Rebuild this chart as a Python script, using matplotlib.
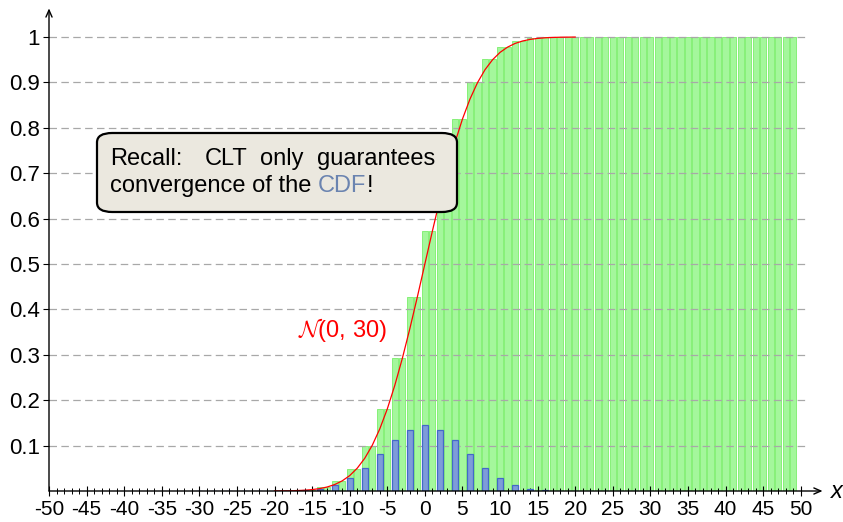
import matplotlib
matplotlib.use("Agg")
import matplotlib.pyplot as plt
from matplotlib.patches import FancyBboxPatch

plt.rcParams['font.family'] = ['Liberation Sans', 'DejaVu Sans']
plt.rcParams['mathtext.fontset'] = 'cm'
plt.rcParams['axes.unicode_minus'] = False

# ---- data ----
cdf_x = list(range(-50, 50))
cdf_values = ([0.0] * 30 +
              [0.0002, 0.0002, 0.0007, 0.0007, 0.0026, 0.0026, 0.0081, 0.0081,
               0.0214, 0.0214, 0.0494, 0.0494, 0.1002, 0.1002, 0.1808, 0.1808,
               0.2923, 0.2923, 0.4278, 0.4278,
               0.5722, 0.5722, 0.7077, 0.7077, 0.8192, 0.8192, 0.8998, 0.8998,
               0.9506, 0.9506, 0.9786, 0.9786, 0.9919, 0.9919, 0.9974, 0.9974,
               0.9993, 0.9993, 0.9998, 0.9998] +
              [1.0] * 30)

pmf_x = list(range(-30, 31, 2))
pmf_values = [0, 0, 0, 0, 0, 0.0001, 0.0006, 0.0019, 0.0055, 0.0133, 0.0280,
              0.0509, 0.0806, 0.1115, 0.1354, 0.1445, 0.1354, 0.1115, 0.0806,
              0.0509, 0.0280, 0.0133, 0.0055, 0.0019, 0.0006, 0.0001, 0, 0, 0, 0, 0]

normal_x = list(range(-20, 21))
normal_values = [0.0001, 0.0003, 0.0005, 0.0010, 0.0017, 0.0031, 0.0053, 0.0088,
                 0.0142, 0.0223, 0.0339, 0.0502, 0.0720, 0.1006, 0.1367, 0.1807,
                 0.2327, 0.2920, 0.3575, 0.4275, 0.5,
                 0.5725, 0.6425, 0.7080, 0.7673, 0.8193, 0.8633, 0.8994, 0.9280,
                 0.9498, 0.9661, 0.9777, 0.9858, 0.9912, 0.9947, 0.9969, 0.9983,
                 0.9990, 0.9995, 0.9997, 0.9999]

y_ticks = [0.1, 0.2, 0.3, 0.4, 0.5, 0.6, 0.7, 0.8, 0.9, 1.0]
y_tick_labels = ['0.1', '0.2', '0.3', '0.4', '0.5', '0.6', '0.7', '0.8', '0.9', '1']
x_ticks = list(range(-50, 51, 5))
x_tick_labels = [str(v) for v in x_ticks]

W, H = 843, 522
fig = plt.figure(figsize=(W / 100, H / 100), dpi=100)

x0_px, x1_px = 49, 806
y0_px = 491
unit_y = 454.0
ymax = 1.03
ax = fig.add_axes([x0_px / W, (H - y0_px) / H, (x1_px - x0_px) / W, ymax * unit_y / H])
ax.set_xlim(-50, 50.7)
ax.set_ylim(0, ymax)

for s in ax.spines.values():
    s.set_visible(False)

# grid
for yv in y_ticks:
    ax.plot([-50, 50.7], [yv, yv], color='#a8a8a8', lw=0.9, dashes=(6, 3.5), zorder=1.5)

ax.bar(cdf_x, cdf_values, width=0.82, color='#a4f79c', edgecolor='#86f078',
       lw=0.7, zorder=1)
ax.bar(pmf_x, pmf_values, width=0.78, color='#7d9cd9', edgecolor='#4369c8', lw=0.9, zorder=2)

ax.plot(normal_x, normal_values, color='#ff0000', lw=0.9, zorder=6)

ax.text(-11.0, 0.355, r'$\mathcal{N}$(0, 30)', color='#ff0000', fontsize=17,
        ha='center', va='center', zorder=7)

# axis arrows
ax.annotate('', xy=(52.9, 0), xytext=(-50, 0), annotation_clip=False,
            arrowprops=dict(arrowstyle='->,head_length=0.5,head_width=0.22', lw=1.0, color='black',
                            shrinkA=0, shrinkB=0), zorder=8)
ax.annotate('', xy=(-50, 1.063), xytext=(-50, 0), annotation_clip=False,
            arrowprops=dict(arrowstyle='->,head_length=0.5,head_width=0.22', lw=1.0, color='black',
                            shrinkA=0, shrinkB=0), zorder=8)
ax.text(54.0, 0.0, 'x', fontsize=17, style='italic', ha='left', va='center')

ax.set_yticks(y_ticks)
ax.set_yticklabels(y_tick_labels, fontsize=16)
ax.set_xticks(x_ticks)
ax.set_xticklabels(x_tick_labels, fontsize=15)
ax.set_xticks(list(range(-50, 51)), minor=True)
ax.tick_params(axis='y', direction='out', length=4.5, width=0.8, pad=2)
ax.tick_params(axis='x', which='major', direction='inout', length=7, width=0.8, pad=3)
ax.tick_params(axis='x', which='minor', direction='inout', length=4, width=0.7)

# callout box (figure pixel coords)
def fx(px):
    return px / W

def fy(py):
    return 1 - py / H

box = FancyBboxPatch((fx(97), fy(212)), fx(457) - fx(97), fy(133) - fy(212),
                     boxstyle='round,pad=0,rounding_size=0.018', transform=fig.transFigure,
                     facecolor='#ebe8df', edgecolor='black', lw=1.6, zorder=5)
fig.patches.append(box)

fs = 17
kw = dict(fontsize=fs, va='baseline', zorder=6)
fig.text(fx(110), fy(165), 'Recall:', ha='left', **kw)
fig.text(fx(205), fy(165), 'CLT', ha='left', **kw)
fig.text(fx(260), fy(165), 'only', ha='left', **kw)
fig.text(fx(435), fy(165), 'guarantees', ha='right', **kw)
fig.text(fx(110), fy(192), 'convergence of the', ha='left', **kw)
fig.text(fx(318), fy(192), 'CDF', ha='left', color='#6b84b0', **kw)
fig.text(fx(366.5), fy(192), '!', ha='left', **kw)

fig.savefig('out.png', dpi=100)
